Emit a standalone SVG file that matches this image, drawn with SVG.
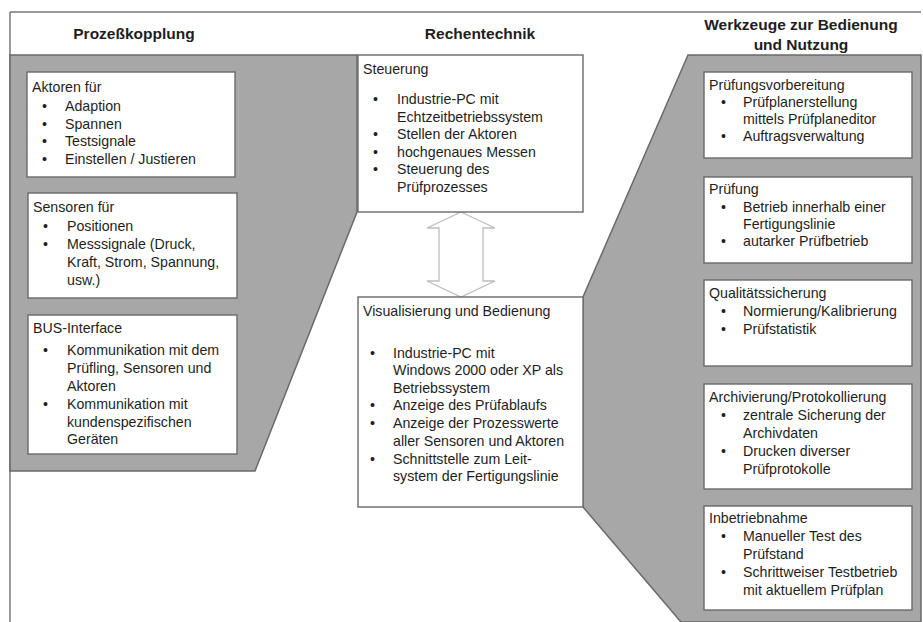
<svg xmlns="http://www.w3.org/2000/svg" width="923" height="622" viewBox="0 0 923 622">
<style>
text{font-family:"Liberation Sans",Arial,sans-serif;fill:#1e1e1e}
.h{font-size:15.5px;font-weight:bold;text-anchor:middle}
.t{font-size:14.2px}
.box{fill:#fff;stroke:#6a6a6a;stroke-width:1.4}
.panel{fill:#a7a7a7;stroke:#6a6a6a;stroke-width:1.5}
.frame{fill:none;stroke:#7a7a7a;stroke-width:1.5}
.arrow{fill:#fff;stroke:#bdbdbd;stroke-width:1.3}
</style>
<rect width="923" height="622" fill="#fff"/>
<g id="frame">
<path class="frame" d="M10,12 H921 M10,12 V622"/>
</g>
<g id="headers">
<text class="h" x="134" y="39">Prozeßkopplung</text>
<text class="h" x="480" y="39">Rechentechnik</text>
<text class="h" x="801" y="30">Werkzeuge zur Bedienung</text>
<text class="h" x="801" y="50">und Nutzung</text>
</g>
<g id="panel-left">
<polygon class="panel" points="10,55 357,55 357,212 255,471 10,471"/>
</g>
<g id="panel-right">
<polygon class="panel" points="688,55 921,55 921,622 681,622 583,507 583,297"/>
</g>
<g id="aktoren">
<rect class="box" x="27" y="72" width="208" height="105"/>
<text class="t" x="32" y="92">Aktoren für</text>
<text class="t" x="42" y="111">•</text><text class="t" x="65" y="111">Adaption</text>
<text class="t" x="42" y="129">•</text><text class="t" x="65" y="129">Spannen</text>
<text class="t" x="42" y="146">•</text><text class="t" x="65" y="146">Testsignale</text>
<text class="t" x="42" y="164">•</text><text class="t" x="65" y="164">Einstellen / Justieren</text>
</g>
<g id="sensoren">
<rect class="box" x="28" y="193" width="209" height="105"/>
<text class="t" x="33" y="212">Sensoren für</text>
<text class="t" x="43" y="231">•</text><text class="t" x="67" y="231">Positionen</text>
<text class="t" x="43" y="249">•</text><text class="t" x="67" y="249">Messsignale (Druck,</text>
<text class="t" x="67" y="267">Kraft, Strom, Spannung,</text>
<text class="t" x="67" y="285">usw.)</text>
</g>
<g id="bus">
<rect class="box" x="28" y="315" width="209" height="139"/>
<text class="t" x="33" y="333">BUS-Interface</text>
<text class="t" x="43" y="355">•</text><text class="t" x="67" y="355">Kommunikation mit dem</text>
<text class="t" x="67" y="373">Prüfling, Sensoren und</text>
<text class="t" x="67" y="391">Aktoren</text>
<text class="t" x="43" y="409">•</text><text class="t" x="67" y="409">Kommunikation mit</text>
<text class="t" x="67" y="427">kundenspezifischen</text>
<text class="t" x="67" y="444">Geräten</text>
</g>
<g id="connectors">
<polygon class="arrow" points="461,212 495,228 483,228 483,281 495,281 461,297 427,281 439,281 439,228 427,228"/>
</g>
<g id="steuerung">
<rect class="box" x="358" y="55" width="225" height="157"/>
<text class="t" x="363" y="74">Steuerung</text>
<text class="t" x="373" y="104">•</text><text class="t" x="397" y="104">Industrie-PC mit</text>
<text class="t" x="397" y="122">Echtzeitbetriebssystem</text>
<text class="t" x="373" y="139">•</text><text class="t" x="397" y="139">Stellen der Aktoren</text>
<text class="t" x="373" y="157">•</text><text class="t" x="397" y="157">hochgenaues Messen</text>
<text class="t" x="373" y="174">•</text><text class="t" x="397" y="174">Steuerung des</text>
<text class="t" x="397" y="192">Prüfprozesses</text>
</g>
<g id="visualisierung">
<rect class="box" x="358" y="297" width="225" height="210"/>
<text class="t" x="363" y="316">Visualisierung und Bedienung</text>
<text class="t" x="370" y="358">•</text><text class="t" x="393" y="358">Industrie-PC mit</text>
<text class="t" x="393" y="375">Windows 2000 oder XP als</text>
<text class="t" x="393" y="393">Betriebssystem</text>
<text class="t" x="370" y="410">•</text><text class="t" x="393" y="410">Anzeige des Prüfablaufs</text>
<text class="t" x="370" y="428">•</text><text class="t" x="393" y="428">Anzeige der Prozesswerte</text>
<text class="t" x="393" y="446">aller Sensoren und Aktoren</text>
<text class="t" x="370" y="464">•</text><text class="t" x="393" y="464">Schnittstelle zum Leit-</text>
<text class="t" x="393" y="481">system der Fertigungslinie</text>
</g>
<g id="pruefungsvorbereitung">
<rect class="box" x="704" y="72" width="208" height="86"/>
<text class="t" x="709" y="90">Prüfungsvorbereitung</text>
<text class="t" x="721" y="107">•</text><text class="t" x="743" y="107">Prüfplanerstellung</text>
<text class="t" x="743" y="124">mittels Prüfplaneditor</text>
<text class="t" x="721" y="141">•</text><text class="t" x="743" y="141">Auftragsverwaltung</text>
</g>
<g id="pruefung">
<rect class="box" x="704" y="177" width="208" height="86"/>
<text class="t" x="709" y="194">Prüfung</text>
<text class="t" x="721" y="212">•</text><text class="t" x="743" y="212">Betrieb innerhalb einer</text>
<text class="t" x="743" y="229">Fertigungslinie</text>
<text class="t" x="721" y="246">•</text><text class="t" x="743" y="246">autarker Prüfbetrieb</text>
</g>
<g id="qualitaetssicherung">
<rect class="box" x="704" y="280" width="208" height="86"/>
<text class="t" x="709" y="298">Qualitätssicherung</text>
<text class="t" x="721" y="316">•</text><text class="t" x="743" y="316">Normierung/Kalibrierung</text>
<text class="t" x="721" y="334">•</text><text class="t" x="743" y="334">Prüfstatistik</text>
</g>
<g id="archivierung">
<rect class="box" x="704" y="384" width="208" height="105"/>
<text class="t" x="709" y="402">Archivierung/Protokollierung</text>
<text class="t" x="721" y="420">•</text><text class="t" x="743" y="420">zentrale Sicherung der</text>
<text class="t" x="743" y="438">Archivdaten</text>
<text class="t" x="721" y="456">•</text><text class="t" x="743" y="456">Drucken diverser</text>
<text class="t" x="743" y="474">Prüfprotokolle</text>
</g>
<g id="inbetriebnahme">
<rect class="box" x="704" y="506" width="208" height="104"/>
<text class="t" x="709" y="523">Inbetriebnahme</text>
<text class="t" x="721" y="541">•</text><text class="t" x="743" y="541">Manueller Test des</text>
<text class="t" x="743" y="559">Prüfstand</text>
<text class="t" x="721" y="577">•</text><text class="t" x="743" y="577">Schrittweiser Testbetrieb</text>
<text class="t" x="743" y="595">mit aktuellem Prüfplan</text>
</g>
</svg>
